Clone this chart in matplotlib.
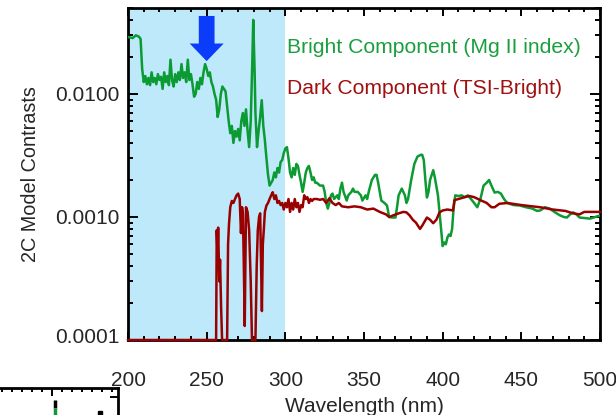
import numpy as np
import matplotlib
matplotlib.use("Agg")
import matplotlib.pyplot as plt
from matplotlib.ticker import FixedLocator, LogLocator, NullFormatter, MultipleLocator
import matplotlib.transforms as mtransforms
from matplotlib.patches import Polygon

plt.rcParams['font.family'] = ['Liberation Sans', 'DejaVu Sans']

# ---------------- data ----------------
bright_wl = [200, 203, 205, 207, 208, 209, 210, 211, 212, 213, 214, 215, 216, 217, 218, 219, 220,
             221, 222, 223, 224, 225, 226, 227, 228, 229, 230, 231, 232, 233, 234, 235, 236, 237,
             238, 239, 240, 241, 242, 243, 244, 245, 246, 247, 248, 249, 250, 251, 252, 253, 254,
             255, 256, 257, 258, 259, 260, 261, 262, 263, 264, 265, 266, 267, 268, 269, 270, 271,
             272, 273, 274, 275, 276, 277, 278, 279, 279.6, 280.5, 281, 282, 283, 284, 285, 286,
             287, 288, 289, 290, 291, 292, 293, 294, 295, 296, 297, 298, 299, 300, 301, 302, 303,
             304, 305, 306, 307, 308, 309, 310, 311, 312, 313, 314, 315, 316, 317, 318, 319, 320,
             322, 324, 325, 326, 327, 328, 329, 330, 331, 333, 334, 335, 336, 337, 339, 340, 342,
             343, 344, 346, 348, 349, 351, 352, 353, 355, 357, 358, 359, 361, 363, 364.6, 366, 368,
             370, 371, 372, 374, 376, 377, 378, 380, 382, 384, 386, 387, 388, 389, 390, 391, 392,
             394, 395, 397, 398, 399, 400, 401, 402, 403, 404, 405, 406, 407, 408, 410, 412, 414,
             416, 418, 420, 422, 424, 426, 428, 429.5, 431, 433, 435, 437, 439, 441, 445, 449, 453,
             457, 460, 462, 465, 468, 471, 474.6, 477, 479, 481, 483, 485, 487, 490, 493.6, 496, 500]
bright_val = [0.0290, 0.0285, 0.0300, 0.0292, 0.0280, 0.0160, 0.0125, 0.0140, 0.0120, 0.0135, 0.0118,
              0.0150, 0.0125, 0.0135, 0.0120, 0.0145, 0.0130, 0.0138, 0.0110, 0.0150, 0.0125, 0.0140,
              0.0118, 0.0190, 0.0130, 0.0115, 0.0145, 0.0125, 0.0150, 0.0130, 0.0175, 0.0135, 0.0150,
              0.0125, 0.0190, 0.0130, 0.0145, 0.0120, 0.0095, 0.0100, 0.0125, 0.0110, 0.0135, 0.0120,
              0.0150, 0.0175, 0.0160, 0.0140, 0.0150, 0.0125, 0.0115, 0.0100, 0.0090, 0.0065, 0.0075,
              0.0100, 0.0115, 0.0110, 0.0105, 0.0080, 0.0060, 0.0048, 0.0055, 0.0040, 0.0050, 0.0045,
              0.0052, 0.0042, 0.0060, 0.0070, 0.0055, 0.0075, 0.0050, 0.0037, 0.0060, 0.0180, 0.0400,
              0.0150, 0.0070, 0.0037, 0.0050, 0.0065, 0.0089, 0.0055, 0.0042, 0.0030, 0.0022, 0.0018,
              0.0019, 0.0020, 0.0023, 0.0021, 0.0025, 0.0023, 0.0028, 0.0029, 0.0033, 0.0036, 0.0037,
              0.0030, 0.0023, 0.0021, 0.0025, 0.0022, 0.0027, 0.0026, 0.0022, 0.0019, 0.0016, 0.0019,
              0.0023, 0.0025, 0.0026, 0.0023, 0.0020, 0.0021, 0.0019, 0.0019, 0.0018, 0.0018, 0.0016,
              0.0013, 0.00117, 0.0013, 0.0015, 0.00155, 0.0014, 0.0015, 0.0014, 0.0017, 0.0019, 0.0016,
              0.00136, 0.0015, 0.0016, 0.0017, 0.0016, 0.0016, 0.0015, 0.00136, 0.0015, 0.0014, 0.0016,
              0.0020, 0.0022, 0.0022, 0.0019, 0.00136, 0.0013, 0.00124, 0.0010, 0.00099, 0.00099,
              0.0012, 0.0015, 0.0017, 0.0015, 0.0013, 0.0014, 0.0020, 0.0027, 0.0031, 0.0032, 0.0032,
              0.0029, 0.0020, 0.00144, 0.0016, 0.0020, 0.0024, 0.0021, 0.0015, 0.0011, 0.0008, 0.00058,
              0.00062, 0.0006, 0.00068, 0.00072, 0.0007, 0.0008, 0.0012, 0.0015, 0.00148, 0.0015,
              0.00145, 0.0015, 0.0014, 0.0013, 0.0012, 0.0014, 0.0018, 0.0019, 0.0020, 0.0018, 0.00158,
              0.0016, 0.00155, 0.0014, 0.0013, 0.00125, 0.00124, 0.0012, 0.00117, 0.00112, 0.00113,
              0.0012, 0.00117, 0.0011, 0.00103, 0.0010, 0.00099, 0.00105, 0.00109, 0.00105, 0.00099,
              0.00098, 0.00097, 0.00099, 0.00103]

dark_wl = [200, 256, 256.4, 256.9, 257.3, 258.0, 258.5, 259.2, 259.8, 263, 263.6, 264.2, 265, 266,
           267, 268, 269, 270, 271, 271.8, 272.5, 273, 273.5, 274.2, 275, 276, 277, 278, 278.8, 281,
           281.8, 282.5, 283.3, 284, 284.6, 285.1, 285.7, 286.3, 287, 288, 289, 290, 291, 292, 293,
           294, 295, 296, 297, 298, 299, 300, 301, 302, 303, 304, 305, 306, 307, 308, 309, 310, 311,
           312, 313, 314, 315, 316, 317, 318, 320, 322, 324, 326, 328, 330, 332, 334, 336, 340, 344,
           348, 352, 356, 360, 364, 366, 368.5, 372, 375, 377, 379, 381, 383, 385.6, 387, 390, 392,
           394, 396, 398, 400, 403, 406.6, 407.5, 410, 414, 417, 420, 424, 428, 431, 433, 436, 441,
           450, 462, 470, 478, 483, 487, 490, 495, 500]
dark_val = [1e-4, 1e-4, 0.00078, 0.0005, 0.00082, 0.0003, 0.00045, 0.00018, 1e-4, 1e-4, 0.0006,
            0.00088, 0.0012, 0.00135, 0.0013, 0.0014, 0.0015, 0.00155, 0.0014, 0.00074, 0.0012,
            0.00107, 0.0005, 0.00013, 0.0012, 0.0011, 0.00078, 0.0003, 1e-4, 1e-4, 0.0004, 0.00078,
            0.0010, 0.00107, 0.0004, 0.000172, 0.0006, 0.00078, 0.0011, 0.00124, 0.0013, 0.0014,
            0.0015, 0.00159, 0.0014, 0.0015, 0.0013, 0.00135, 0.00125, 0.0013, 0.00115, 0.0013,
            0.0012, 0.0014, 0.0011, 0.0013, 0.00115, 0.0014, 0.0012, 0.0013, 0.0011, 0.00125, 0.0012,
            0.0015, 0.0014, 0.00145, 0.0013, 0.0014, 0.00135, 0.0014, 0.0014, 0.00138, 0.0014, 0.0013,
            0.00142, 0.0013, 0.00125, 0.0013, 0.00122, 0.0012, 0.00122, 0.0012, 0.00115, 0.00117,
            0.0011, 0.00105, 0.0010, 0.00103, 0.00107, 0.0011, 0.00109, 0.00103, 0.00095, 0.0009,
            0.0008, 0.00085, 0.00099, 0.00095, 0.00089, 0.00095, 0.00109, 0.00113, 0.00115, 0.00113,
            0.00137, 0.0014, 0.00145, 0.00148, 0.00145, 0.00137, 0.0013, 0.0012, 0.0012, 0.00128,
            0.0013, 0.00125, 0.0012, 0.00115, 0.00112, 0.00107, 0.00105, 0.0011, 0.0011, 0.0011]

shade_range = [200, 300]
arrow_wl = 250
xlim = [200, 500]
ylim = [1e-4, 0.05]
xticks = [200, 250, 300, 350, 400, 450, 500]
yticks = [1e-4, 1e-3, 1e-2]
ytick_labels = ["0.0001", "0.0010", "0.0100"]
bright_label = "Bright Component (Mg II index)"
dark_label = "Dark Component (TSI-Bright)"

# partially visible neighbouring panel (bottom-left)
inset_x = [55, 55]
inset_y_black = [1.56, 1.26]
inset_y_green = [1.26, 0.9]
inset_dot = [100, 1.07]

GREEN = '#0c9a33'
RED = '#990000'
TXT = '#262626'

fig = plt.figure(figsize=(6.16, 4.15), dpi=100)
ax = fig.add_axes([128/616, 1 - 340/415, 472/616, 332/415])

ax.axvspan(shade_range[0], shade_range[1], color='#bde9fb', lw=0, zorder=0)
ax.plot(bright_wl, bright_val, color=GREEN, lw=1.8, zorder=3)
ax.plot(dark_wl, dark_val, color=RED, lw=1.8, zorder=3, clip_on=False)

ax.set_yscale('log')
ax.set_xlim(xlim)
ax.set_ylim(ylim)
ax.set_xticks(xticks)
ax.xaxis.set_minor_locator(MultipleLocator(10))
ax.set_yticks(yticks)
ax.set_yticklabels(ytick_labels)
ax.yaxis.set_minor_locator(LogLocator(base=10, subs=np.arange(2, 10)))
ax.yaxis.set_minor_formatter(NullFormatter())

ax.tick_params(which='both', direction='in', top=True, right=True, width=1.4, colors='black',
               labelcolor=TXT, labelsize=15)
ax.tick_params(axis='y', which='major', length=7.5, pad=6)
ax.tick_params(axis='y', which='minor', length=3.8)
ax.tick_params(axis='x', which='major', length=6, pad=22)
ax.tick_params(axis='x', which='minor', length=3)
for sp in ax.spines.values():
    sp.set_linewidth(2.0)
    sp.set_zorder(2.5)

# nudge the lowest y label up a little, as in the reference
lbl = ax.get_yticklabels()[0]
lbl.set_transform(lbl.get_transform() + mtransforms.ScaledTranslation(0, 5/100, fig.dpi_scale_trans))

ax.set_xlabel("Wavelength (nm)", fontsize=15, color=TXT, labelpad=5)
ax.set_ylabel("2C Model Contrasts", fontsize=14.3, color=TXT, labelpad=11)

ax.text(0.337, 0.88, bright_label, transform=ax.transAxes, color='#1a9e3e', fontsize=15.2,
        va='center', ha='left')
ax.text(0.337, 0.758, dark_label, transform=ax.transAxes, color='#a01010', fontsize=15.2,
        va='center', ha='left')

# blue arrow at 250 nm
trans = mtransforms.blended_transform_factory(ax.transData, ax.transAxes)
sh, hh = 5.0, 10.8
top, base, tip = 0.976, 0.893, 0.84
arrow = Polygon([[arrow_wl - sh, top], [arrow_wl + sh, top], [arrow_wl + sh, base],
                 [arrow_wl + hh, base], [arrow_wl, tip], [arrow_wl - hh, base],
                 [arrow_wl - sh, base]], closed=True, transform=trans, color='#0a3cfa',
                lw=0, zorder=4)
ax.add_patch(arrow)

# bottom-left partial panel
ax2 = fig.add_axes([-60/616, -27/415, 178/616, 54/415])
ax2.set_xlim(-60, 118)
ax2.set_ylim(0, 2)
ax2.plot(inset_x, inset_y_black, color='black', lw=2.5, solid_capstyle='butt')
ax2.plot(inset_x, inset_y_green, color=GREEN, lw=2.5, solid_capstyle='butt')
ax2.plot([inset_dot[0]], [inset_dot[1]], 'ks', ms=2.5)
ax2.xaxis.set_major_locator(FixedLocator([-48, 52]))
ax2.xaxis.set_minor_locator(FixedLocator(np.arange(-58, 118, 10)))
ax2.yaxis.set_major_locator(FixedLocator([1.67]))
ax2.yaxis.set_minor_locator(FixedLocator([]))
ax2.tick_params(which='both', direction='in', top=True, right=True, bottom=False, left=False,
                labelbottom=False, labelleft=False, width=1.4)
ax2.tick_params(which='major', length=6)
ax2.tick_params(which='minor', length=3)
for sp in ax2.spines.values():
    sp.set_linewidth(2.0)

fig.savefig('out.png', dpi=100)
